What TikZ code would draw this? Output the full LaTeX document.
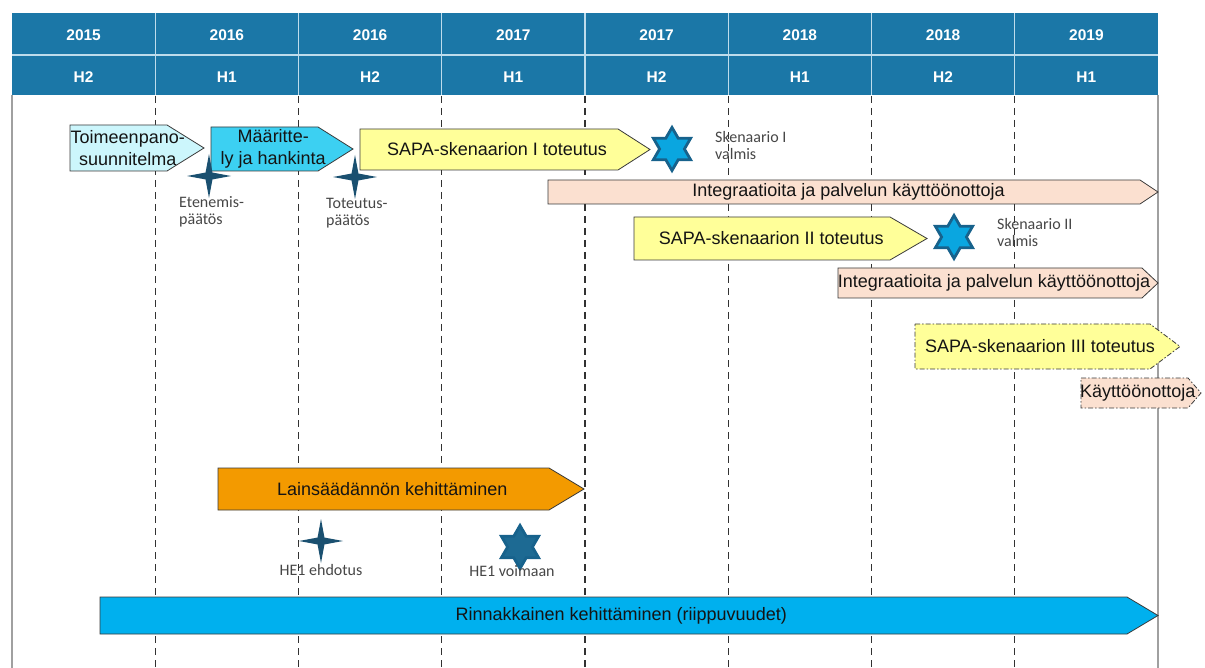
\documentclass[tikz,border=0pt]{standalone}
\usepackage{fontspec}
\setmainfont{Liberation Sans}
\newfontfamily\calib{Carlito}
\usetikzlibrary{shapes.geometric}
\definecolor{hdr}{RGB}{27,119,167}
\definecolor{sepc}{RGB}{190,220,236}
\definecolor{gridc}{RGB}{50,50,50}
\definecolor{bordc}{RGB}{160,160,160}
\definecolor{edge}{RGB}{58,58,58}
\definecolor{txtc}{RGB}{20,20,20}
\definecolor{lblc}{RGB}{70,70,70}
\definecolor{toimc}{RGB}{204,246,252}
\definecolor{maarc}{RGB}{60,208,242}
\definecolor{sapac}{RGB}{255,255,153}
\definecolor{peachc}{RGB}{251,224,208}
\definecolor{orangec}{RGB}{243,154,0}
\definecolor{rinnc}{RGB}{0,176,238}
\definecolor{davidc}{RGB}{10,166,224}
\definecolor{davide}{RGB}{23,98,140}
\definecolor{darkdav}{RGB}{29,106,147}
\definecolor{crossc}{RGB}{26,80,112}
\newcommand\mypent[8]{%
  \draw[#1] (#3,#6) -- (#4,#6) -- (#5,{(#6+#7)/2}) -- (#4,#7) -- (#3,#7) -- cycle;
  \node[txt] (#2) at ({(2*#3+#4+#5)/4},{(#6+#7)/2}) {#8};}
\begin{document}
\begin{tikzpicture}[x=1pt,y=-1pt,
  box/.style={draw=edge,line width=0.8pt},
  txt/.style={font=\fontsize{18}{22}\selectfont,text=txtc,inner sep=0pt,align=center},
  hdrtxt/.style={font=\fontsize{15.5}{17}\selectfont\bfseries,text=white,inner sep=0pt},
  lbl/.style={font=\calib\fontsize{16}{17}\selectfont,text=lblc,inner sep=0pt,align=left,anchor=north west},
  cross/.style={star,star points=4,star point ratio=4.5,minimum size=44pt,inner sep=0pt,fill=crossc,draw=none},
  david/.style={star,star points=6,star point ratio=1.732,minimum size=43pt,inner sep=0pt,fill=davidc,draw=davide,line width=2.8pt},
  gridline/.style={dash pattern=on 7pt off 5pt,line width=1.1pt,draw=gridc},
  future/.style={dash pattern=on 5pt off 2pt on 1.5pt off 2pt}
]
\useasboundingbox (0,0) rectangle (1205,668);
% header
\fill[hdr] (12,13) rectangle (1158,95);
\draw[sepc,line width=1.2pt] (12,55) -- (1158,55);
\foreach \k in {1,...,7} \draw[sepc,line width=1.2pt] ({12+143.25*\k},13) -- ({12+143.25*\k},95);
\foreach \yr/\h [count=\k from 0] in {2015/H2,2016/H1,2016/H2,2017/H1,2017/H2,2018/H1,2018/H2,2019/H1} {
  \node[hdrtxt] (yr\k) at ({12+143.25*(\k+0.5)},35) {\yr};
  \node[hdrtxt] (hf\k) at ({12+143.25*(\k+0.5)},77) {\h};
}
% grid
\foreach \k in {1,...,7} \draw[gridline] ({12+143.25*\k},96) -- ({12+143.25*\k},668);
\draw[bordc,line width=2pt] (12,95) -- (12,668);
\draw[bordc,line width=2pt] (1158,95) -- (1158,668);
% bars
\mypent{box,fill=toimc}{toim}{70}{167}{204}{125}{171}{Toimeenpano-\\suunnitelma}
\mypent{box,fill=maarc}{maar}{211}{318}{353}{127}{171}{Määritte-\\ly ja hankinta}
\mypent{box,fill=sapac}{sapa1}{360}{618}{650}{129}{170}{SAPA-skenaarion I toteutus}
\mypent{box,fill=peachc}{int1}{548}{1140}{1158}{180}{204}{Integraatioita ja palvelun käyttöönottoja}
\mypent{box,fill=sapac}{sapa2}{634}{890}{927}{217}{260}{SAPA-skenaarion II toteutus}
\mypent{box,fill=peachc}{int2}{838}{1142}{1158}{268}{298}{Integraatioita ja palvelun käyttöönottoja}
\mypent{box,fill=sapac,future}{sapa3}{915}{1150}{1180}{324}{369}{SAPA-skenaarion III toteutus}
\mypent{box,fill=peachc,future}{kayt}{1081}{1188}{1201}{378}{408}{Käyttöönottoja}
\mypent{box,fill=orangec}{lain}{218}{549}{584}{468}{510}{Lainsäädännön kehittäminen}
\mypent{box,fill=rinnc}{rinn}{100}{1127}{1158}{597}{634}{Rinnakkainen kehittäminen (riippuvuudet)}
% milestones
\node[cross] (eten) at (209,176) {};
\node[cross] (tote) at (355,177) {};
\node[cross] (he1e) at (321,541) {};
\node[david] (sk1) at (672,149) {};
\node[david] (sk2) at (954,237) {};
\node[david,fill=darkdav] (he1v) at (520,547) {};
% labels
\node[lbl] (etenl) at (179,196) {Etenemis-\\päätös};
\node[lbl] (totel) at (326,198) {Toteutus-\\päätös};
\node[lbl] (sk1l) at (715,131) {Skenaario I\\valmis};
\node[lbl] (sk2l) at (997,218) {Skenaario II\\valmis};
\node[lbl,anchor=north] (he1el) at (321,564) {HE1 ehdotus};
\node[lbl,anchor=north] (he1vl) at (512,565) {HE1 voimaan};
\end{tikzpicture}
\end{document}
